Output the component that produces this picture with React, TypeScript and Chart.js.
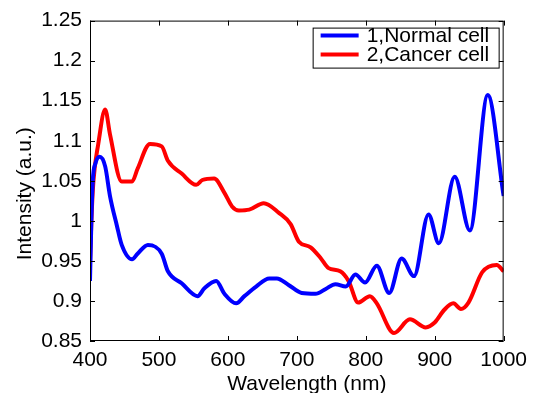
import React, { useEffect, useRef } from "react";
import { Chart, registerables } from "chart.js";

Chart.register(...registerables);

const normalLabel = "1,Normal cell";
const cancerLabel = "2,Cancer cell";

const normalWavelength = [400, 402, 404, 408, 414, 422, 429, 439, 446, 461, 469, 484, 504, 513, 533, 556, 566, 583, 595, 612, 624, 641, 660, 671, 688, 707, 727, 742, 756, 771, 785, 799, 816, 834, 852, 870, 891, 906, 929, 951, 977, 1000];
const normalIntensity = [0.925, 1.0, 1.05, 1.072, 1.08, 1.068, 1.031, 0.994, 0.97, 0.952, 0.959, 0.97, 0.959, 0.937, 0.922, 0.906, 0.916, 0.925, 0.909, 0.897, 0.906, 0.918, 0.928, 0.928, 0.92, 0.91, 0.909, 0.915, 0.921, 0.918, 0.933, 0.923, 0.944, 0.91, 0.953, 0.931, 1.008, 0.972, 1.055, 0.988, 1.157, 1.031];

const cancerWavelength = [400, 402, 405, 412, 422, 429, 446, 461, 469, 487, 504, 513, 533, 554, 563, 580, 595, 606, 616, 631, 652, 674, 691, 703, 720, 735, 746, 763, 775, 789, 806, 816, 841, 864, 887, 900, 914, 927, 938, 949, 969, 990, 1000];
const cancerIntensity = [0.947, 1.0, 1.05, 1.096, 1.139, 1.108, 1.049, 1.049, 1.065, 1.096, 1.093, 1.075, 1.059, 1.045, 1.051, 1.053, 1.035, 1.018, 1.013, 1.014, 1.022, 1.01, 0.996, 0.974, 0.967, 0.953, 0.941, 0.937, 0.925, 0.898, 0.906, 0.897, 0.86, 0.877, 0.867, 0.873, 0.889, 0.897, 0.89, 0.898, 0.936, 0.945, 0.937];

const xTitle = "Wavelength (nm)";
const yTitle = "Intensity (a.u.)";

const FONT = '"Liberation Sans", Arial, Helvetica, sans-serif';
const FS = 21;

const framePlugin = {
  id: "frame",
  afterDraw(chart: any) {
    const { ctx, chartArea: a, scales } = chart;
    ctx.save();
    ctx.strokeStyle = "#000";
    ctx.lineWidth = 1;
    ctx.strokeRect(a.left + 0.5, a.top + 0.5, a.right - a.left - 1, a.bottom - a.top - 1);
    const tl = 5;
    ctx.beginPath();
    scales.x.ticks.forEach((t: any) => {
      const px = Math.round(scales.x.getPixelForValue(t.value)) + 0.5;
      ctx.moveTo(px, a.bottom);
      ctx.lineTo(px, a.bottom - tl);
      ctx.moveTo(px, a.top);
      ctx.lineTo(px, a.top + tl);
    });
    scales.y.ticks.forEach((t: any) => {
      const py = Math.round(scales.y.getPixelForValue(t.value)) + 0.5;
      ctx.moveTo(a.left, py);
      ctx.lineTo(a.left + tl, py);
      ctx.moveTo(a.right, py);
      ctx.lineTo(a.right - tl, py);
    });
    ctx.stroke();

    // axis titles
    ctx.fillStyle = "#000";
    ctx.font = `${FS}px ${FONT}`;
    ctx.textAlign = "center";
    ctx.textBaseline = "middle";
    ctx.fillText(xTitle, (a.left + a.right) / 2 + 10, a.bottom + 43);
    ctx.save();
    ctx.translate(25, (a.top + a.bottom) / 2 + 13);
    ctx.rotate(-Math.PI / 2);
    ctx.fillText(yTitle, 0, 0);
    ctx.restore();

    // legend
    const bw = 186, bh = 40;
    const bx = a.right - 5 - bw, by = a.top + 7;
    ctx.fillStyle = "#fff";
    ctx.fillRect(bx, by, bw, bh);
    ctx.strokeStyle = "#000";
    ctx.lineWidth = 1;
    ctx.strokeRect(bx + 0.5, by + 0.5, bw, bh);
    chart.data.datasets.forEach((ds: any, i: number) => {
      const ly = by + 8 + i * 19;
      ctx.strokeStyle = ds.borderColor;
      ctx.lineWidth = 4;
      ctx.beginPath();
      ctx.moveTo(bx + 8, ly);
      ctx.lineTo(bx + 46, ly);
      ctx.stroke();
      ctx.fillStyle = "#000";
      ctx.textAlign = "left";
      ctx.textBaseline = "middle";
      ctx.fillText(ds.label, bx + 54, ly + 1);
    });
    ctx.restore();
  },
};

export default function App() {
  const ref = useRef<HTMLCanvasElement>(null);
  useEffect(() => {
    document.body.style.margin = "0";
    const chart = new Chart(ref.current!, {
      type: "line",
      data: {
        datasets: [
          {
            label: normalLabel,
            data: normalWavelength.map((x, i) => ({ x, y: normalIntensity[i] })),
            borderColor: "#0000ff",
            borderWidth: 4,
            pointRadius: 0,
            cubicInterpolationMode: "monotone",
          },
          {
            label: cancerLabel,
            data: cancerWavelength.map((x, i) => ({ x, y: cancerIntensity[i] })),
            borderColor: "#ff0000",
            borderWidth: 4,
            pointRadius: 0,
            cubicInterpolationMode: "monotone",
          },
        ],
      },
      options: {
        animation: false,
        responsive: false,
        devicePixelRatio: 1,
        layout: { padding: { top: 14, right: 28, left: 0, bottom: 0 } },
        plugins: { legend: { display: false }, tooltip: { enabled: false } },
        scales: {
          x: {
            type: "linear",
            min: 400,
            max: 1000,
            border: { display: false },
            grid: { display: false, drawTicks: false },
            ticks: {
              stepSize: 100,
              color: "#000",
              font: { size: FS, family: FONT },
              padding: 7,
              maxRotation: 0,
              callback: (v: any) => String(Math.round(Number(v))),
            },
            afterFit: (s: any) => { s.height = 52; },
          },
          y: {
            type: "linear",
            min: 0.85,
            max: 1.25,
            border: { display: false },
            grid: { display: false, drawTicks: false },
            ticks: {
              stepSize: 0.05,
              color: "#000",
              font: { size: FS, family: FONT },
              padding: 8,
              callback: (v: any) => String(+Number(v).toFixed(2)),
            },
            afterFit: (s: any) => { s.width = 90; },
          },
        },
      },
      plugins: [framePlugin],
    });
    return () => chart.destroy();
  }, []);
  return <canvas ref={ref} width={534} height={393} style={{ display: "block" }} />;
}
